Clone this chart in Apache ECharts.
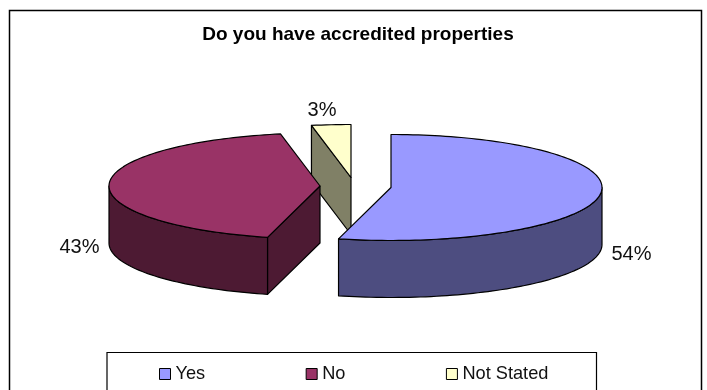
<!DOCTYPE html>
<html>
<head>
<meta charset="utf-8">
<style>html,body{margin:0;padding:0;background:#fff}#chart{width:707px;height:390px}</style>
<script src="https://cdn.jsdelivr.net/npm/echarts@6/dist/echarts.min.js"></script>
</head>
<body>
<div id="chart"></div>
<script>
// Survey answers, in percent
const categories = ['Yes', 'No', 'Not Stated'];
const percentages = [54, 43, 3];

// Slice colours: top face, then the darker shade for the sides
const topColors = ['#9999ff', '#993366', '#ffffcc'];
const sideColors = ['#4d4d80', '#4d1a33', '#808066'];

// Projected pie geometry
const radiusX = 211, radiusY = 53, depth = 57;
const apexes = [[391, 187.5], [320, 186], [351, 177.5]];
const labelSpots = [[631.5, 254], [79.5, 247], [322, 110]];

const total = percentages.reduce((a, b) => a + b, 0);
const deg = Math.PI / 180;

function rimPoint(apex, angle, drop) {
  return [
    apex[0] + radiusX * Math.sin(angle * deg),
    apex[1] - radiusY * Math.cos(angle * deg) + drop
  ];
}

function arcPoints(apex, from, to, drop) {
  const steps = Math.max(2, Math.ceil(Math.abs(to - from) / 1.5));
  const pts = [];
  for (let i = 0; i <= steps; i++) pts.push(rimPoint(apex, from + (to - from) * i / steps, drop));
  return pts;
}

const outline = { stroke: '#000', lineWidth: 1.2, lineJoin: 'round' };

function sliceShapes(index, value) {
  const before = percentages.slice(0, index).reduce((a, b) => a + b, 0);
  const start = before / total * 360;
  const end = start + value / total * 360;
  const apex = apexes[index];
  const side = { fill: sideColors[index], ...outline };
  const top = { fill: topColors[index], ...outline };
  const shapes = [];
  const lowerApex = [apex[0], apex[1] + depth];

  // Radial cut faces that turn towards the viewer
  [start, end].forEach((angle, k) => {
    const normal = angle + (k === 0 ? -90 : 90);
    if (Math.cos(normal * deg) < -1e-3) {
      const a = rimPoint(apex, angle, 0), b = rimPoint(apex, angle, depth);
      shapes.push({ type: 'polygon', shape: { points: [apex, a, b, lowerApex] }, style: side });
    }
  });

  // Curved outer wall along the front half of the rim
  const from = Math.max(start, 90), to = Math.min(end, 270);
  if (to > from) {
    const wall = arcPoints(apex, from, to, 0).concat(arcPoints(apex, to, from, depth));
    shapes.push({ type: 'polygon', shape: { points: wall }, style: side });
  }

  // Top face
  shapes.push({
    type: 'polygon',
    shape: { points: [apex].concat(arcPoints(apex, start, end, 0)) },
    style: top
  });

  // Percentage label
  shapes.push({
    type: 'text',
    style: {
      text: value + '%',
      x: labelSpots[index][0], y: labelSpots[index][1],
      align: 'center', verticalAlign: 'middle',
      fontFamily: '"Liberation Sans", Arial, sans-serif',
      fontSize: 20, fill: '#111'
    }
  });
  return shapes;
}

const series = categories.map((name, i) => ({
  type: 'custom',
  name: name,
  coordinateSystem: 'none',
  // Later slices sit behind earlier ones
  z: 10 - i,
  silent: true,
  itemStyle: { color: topColors[i] },
  data: [[percentages[i]]],
  renderItem: (params, api) => ({ type: 'group', children: sliceShapes(i, api.value(0)) })
}));

const chart = echarts.init(document.getElementById('chart'), null, { renderer: 'canvas' });
chart.setOption({
  animation: false,
  backgroundColor: '#fff',
  title: {
    text: 'Do you have accredited properties',
    left: 353, top: 20, textAlign: 'center',
    textStyle: { fontFamily: '"Liberation Sans", Arial, sans-serif', fontSize: 19, fontWeight: 'bold', color: '#000' }
  },
  legend: {
    data: categories,
    left: 154, top: 360,
    orient: 'horizontal',
    icon: 'rect',
    itemWidth: 11, itemHeight: 11, itemGap: 100.5,
    selectedMode: false,
    itemStyle: { borderColor: '#000', borderWidth: 1 },
    textStyle: { fontFamily: '"Liberation Sans", Arial, sans-serif', fontSize: 18.2, color: '#111', padding: [0, 0, 0, 0] }
  },
  graphic: [
    { type: 'rect', z: -1, silent: true, shape: { x: 9.5, y: 10.5, width: 692, height: 420 },
      style: { fill: '#fff', stroke: '#000', lineWidth: 1.5 } },
    { type: 'rect', z: 0, silent: true, shape: { x: 107, y: 352.5, width: 489.5, height: 60 },
      style: { fill: '#fff', stroke: '#000', lineWidth: 1.2 } }
  ],
  series: series
});
</script>
</body>
</html>
